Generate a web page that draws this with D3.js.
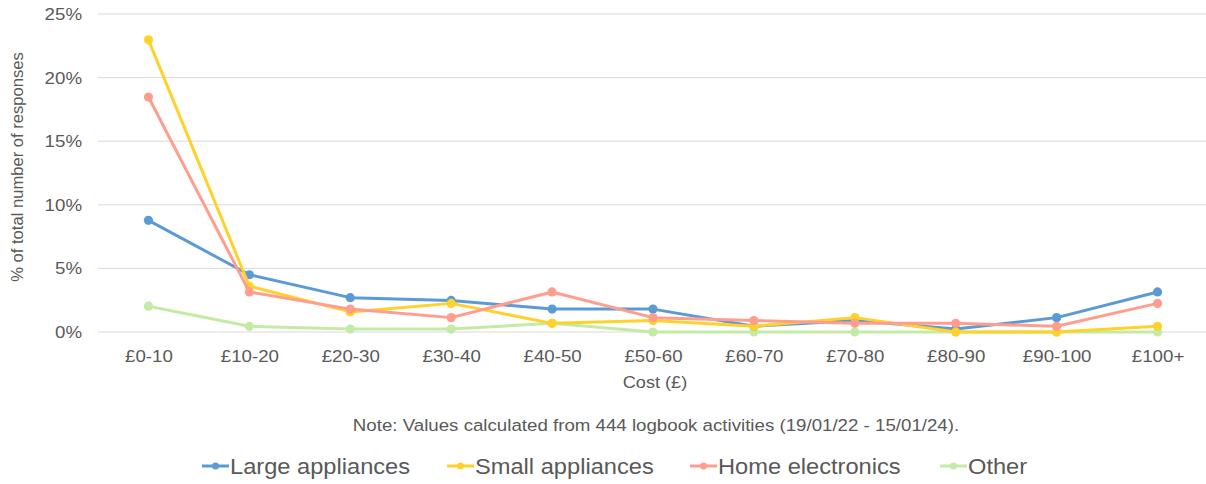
<!DOCTYPE html>
<html><head><meta charset="utf-8">
<script src="https://cdn.jsdelivr.net/npm/d3@7"></script>
<style>body{margin:0;background:#fff;}svg{display:block;font-family:"Liberation Sans",Arial,sans-serif;}</style>
</head><body>
<svg id="c" width="1206" height="484"></svg>
<script>
const categories = ["£0-10","£10-20","£20-30","£30-40","£40-50","£50-60","£60-70","£70-80","£80-90","£90-100","£100+"];
const largeAppliances = [8.78,4.50,2.70,2.48,1.80,1.80,0.45,0.90,0.23,1.13,3.15];
const smallAppliances = [22.97,3.60,1.58,2.25,0.68,0.90,0.45,1.13,0,0,0.45];
const homeElectronics = [18.47,3.15,1.80,1.13,3.15,1.13,0.90,0.68,0.68,0.45,2.25];
const other = [2.03,0.45,0.23,0.23,0.68,0,0,0,0,0,0];
const yTicks = [0,5,10,15,20,25];
const seriesNames = ["Large appliances","Small appliances","Home electronics","Other"];
const seriesColors = ["#5B9BD5","#FFD12B","#FF9E8F","#C4EBA6"];
const series = [largeAppliances, smallAppliances, homeElectronics, other];

const svg = d3.select("#c");
const pLeft = 98, pRight = 1208, pTop = 14, pBottom = 332;
const sx = 1.1;
const x = d3.scalePoint().domain(categories).range([pLeft, pRight]).padding(0.5);
const y = d3.scaleLinear().domain([0,25]).range([pBottom, pTop]);

// gridlines
svg.append("g").selectAll("line").data(yTicks).join("line")
  .attr("x1", pLeft).attr("x2", 1206)
  .attr("y1", d=>y(d)).attr("y2", d=>y(d))
  .attr("stroke", "#d9d9d9").attr("stroke-width", 1);

// y axis labels
const yAxis = d3.axisLeft(y).tickValues(yTicks).tickFormat(d=>d+"%").tickSize(0).tickPadding(0);
const ya = svg.append("g").attr("transform", `translate(82,0)`).call(yAxis);
ya.select(".domain").remove();
ya.selectAll("text").attr("x", 0).attr("font-size", 17).attr("fill", "#595959")
  .attr("font-family","Liberation Sans, Arial, sans-serif").attr("transform", `scale(${sx},1)`);

// x axis labels
const xAxis = d3.axisBottom(x).tickSize(0).tickPadding(0);
const xa = svg.append("g").attr("transform", `translate(0,${pBottom+18})`).call(xAxis);
xa.select(".domain").remove();
xa.selectAll("text").attr("y", 0).attr("font-size", 17).attr("fill", "#595959")
  .attr("font-family","Liberation Sans, Arial, sans-serif").attr("transform", `scale(${sx},1)`);

// axis titles
svg.append("text").attr("transform", `translate(655,388) scale(${sx},1)`).attr("text-anchor","middle")
  .attr("font-size", 16.5).attr("fill","#595959").text("Cost (£)");
svg.append("text").attr("transform","translate(22.5,167) rotate(-90)").attr("text-anchor","middle")
  .attr("font-size", 16.6).attr("fill","#595959").text("% of total number of responses");

// note
svg.append("text").attr("transform", `translate(656,431) scale(${sx},1)`).attr("text-anchor","middle")
  .attr("font-size", 17).attr("fill","#595959").text("Note: Values calculated from 444 logbook activities (19/01/22 - 15/01/24).");

// lines
const line = d3.line().x((d,i)=>x(categories[i])).y(d=>y(d));
const order = [3,0,1,2];
order.forEach(si=>{
  const g = svg.append("g");
  g.append("path").datum(series[si]).attr("d", line)
    .attr("fill","none").attr("stroke", seriesColors[si]).attr("stroke-width", 3).attr("stroke-linejoin","round");
  g.selectAll("circle").data(series[si]).join("circle")
    .attr("cx",(d,i)=>x(categories[i])).attr("cy", d=>y(d)).attr("r", 4.6)
    .attr("fill", seriesColors[si]);
});

// legend
const legendX = [202, 447, 690, 940];
const lg = svg.append("g");
seriesNames.forEach((n,i)=>{
  const g = lg.append("g").attr("transform", `translate(${legendX[i]},466)`);
  g.append("line").attr("x1",0).attr("x2",27).attr("y1",0).attr("y2",0)
    .attr("stroke", seriesColors[i]).attr("stroke-width",3);
  g.append("circle").attr("cx",13.5).attr("cy",0).attr("r",3.5).attr("fill",seriesColors[i]);
  g.append("text").attr("transform", `translate(28,8) scale(${sx},1)`).attr("font-size",21.5).attr("fill","#595959").text(n);
});
</script>
</body></html>
